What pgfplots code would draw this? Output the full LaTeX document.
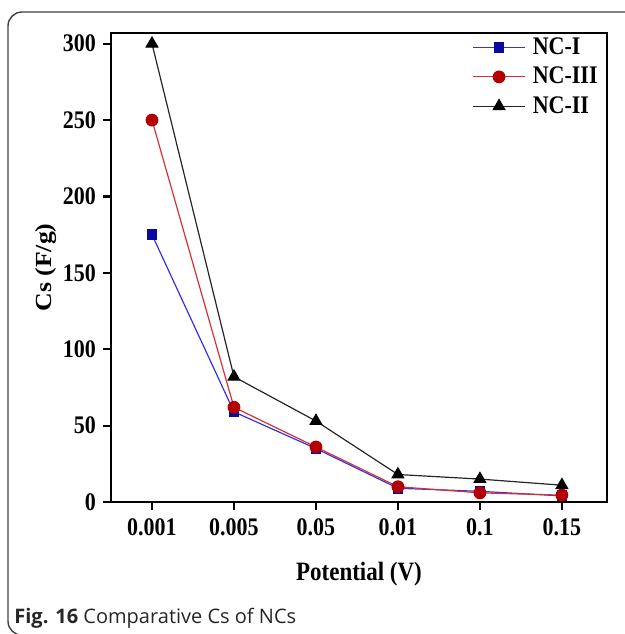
\documentclass[border=0pt]{standalone}
\usepackage{graphicx}
\usepackage{pgfplots}
\pgfplotsset{compat=1.18}
\usepackage{fontspec}
\setmainfont{Liberation Serif}
\newfontfamily\capfont{Open Sans}
\definecolor{ncblue}{RGB}{50,50,230}
\definecolor{ncbluemark}{RGB}{10,10,160}
\definecolor{ncred}{RGB}{215,50,50}
\definecolor{ncredmark}{RGB}{180,0,0}
\newcommand\stretchy[1]{\scalebox{1}[1.15]{#1}}
\begin{document}
\begin{tikzpicture}
\path[use as bounding box] (0,0) rectangle (312.5pt,-317pt);
\clip (0,0) rectangle (312.5pt,-317pt);
\draw[line width=0.7pt, black!75, rounded corners=7pt] (4pt,-6pt) rectangle (340pt,-317.6pt);
\begin{axis}[
  at={(55.5pt,-251pt)}, anchor=south west,
  width=248pt, height=234.5pt, scale only axis,
  xmin=-0.5, xmax=5.55, ymin=0, ymax=307,
  xtick={0,1,2,3,4,5},
  xticklabels={\stretchy{0.001},\stretchy{0.005},\stretchy{0.05},\stretchy{0.01},\stretchy{0.1},\stretchy{0.15}},
  ytick={0,50,100,150,200,250,300},
  yticklabel={\stretchy{\pgfmathprintnumber{\tick}}},
  /pgf/number format/assume math mode=true,
  axis line style={line width=1.3pt},
  every tick/.style={black, line width=1.1pt},
  tick align=outside, major tick length=4pt,
  xtick pos=bottom, ytick pos=left,
  tick label style={font=\fontsize{11}{13}\selectfont\bfseries},
  xticklabel style={yshift=-1pt},
  label style={font=\fontsize{11.5}{13}\selectfont\bfseries},
  xlabel={\stretchy{Potential (V)}}, ylabel={\scalebox{1.12}[1]{Cs (F/g)}},
  xlabel style={at={(axis description cs:0.5,-0.153)}, anchor=center},
  ylabel style={at={(axis description cs:-0.131,0.5)}, anchor=center},
  legend style={at={(0.994,1.008)}, anchor=north east, draw=none, fill=none,
    font=\fontsize{11}{13}\selectfont\bfseries, row sep=0.8pt,
    inner xsep=1pt},
  legend cell align=left,
  legend image code/.code={\draw[mark repeat=2,mark phase=2] plot coordinates {(0cm,0cm)(0.46cm,0cm)(0.92cm,0cm)};},
]
\addplot[ncblue, line width=0.6pt, mark=square*, mark size=2.4pt, mark options={fill=ncbluemark, draw=ncbluemark}]
  coordinates {(0,175) (1,59) (2,35) (3,9) (4,7) (5,4)};
\addlegendentry{\hspace{1.5pt}\stretchy{NC-I}}
\addplot[ncred, line width=0.6pt, mark=*, mark size=2.9pt, mark options={fill=ncredmark, draw=ncredmark}]
  coordinates {(0,250) (1,62) (2,36) (3,10) (4,6) (5,4.5)};
\addlegendentry{\hspace{1.5pt}\stretchy{NC-III}}
\addplot[black!85, line width=0.6pt, mark=triangle*, mark size=3.3pt, mark options={fill=black, draw=black}]
  coordinates {(0,300) (1,82) (2,53) (3,18) (4,15) (5,11)};
\addlegendentry{\hspace{1.5pt}\stretchy{NC-II}}
\end{axis}
\node[anchor=base west, inner sep=0pt, font=\capfont\fontsize{10}{12}\selectfont, text=black!85] at (7pt,-311.5pt) {\textbf{Fig. 16} Comparative Cs of NCs};
\end{tikzpicture}
\end{document}
